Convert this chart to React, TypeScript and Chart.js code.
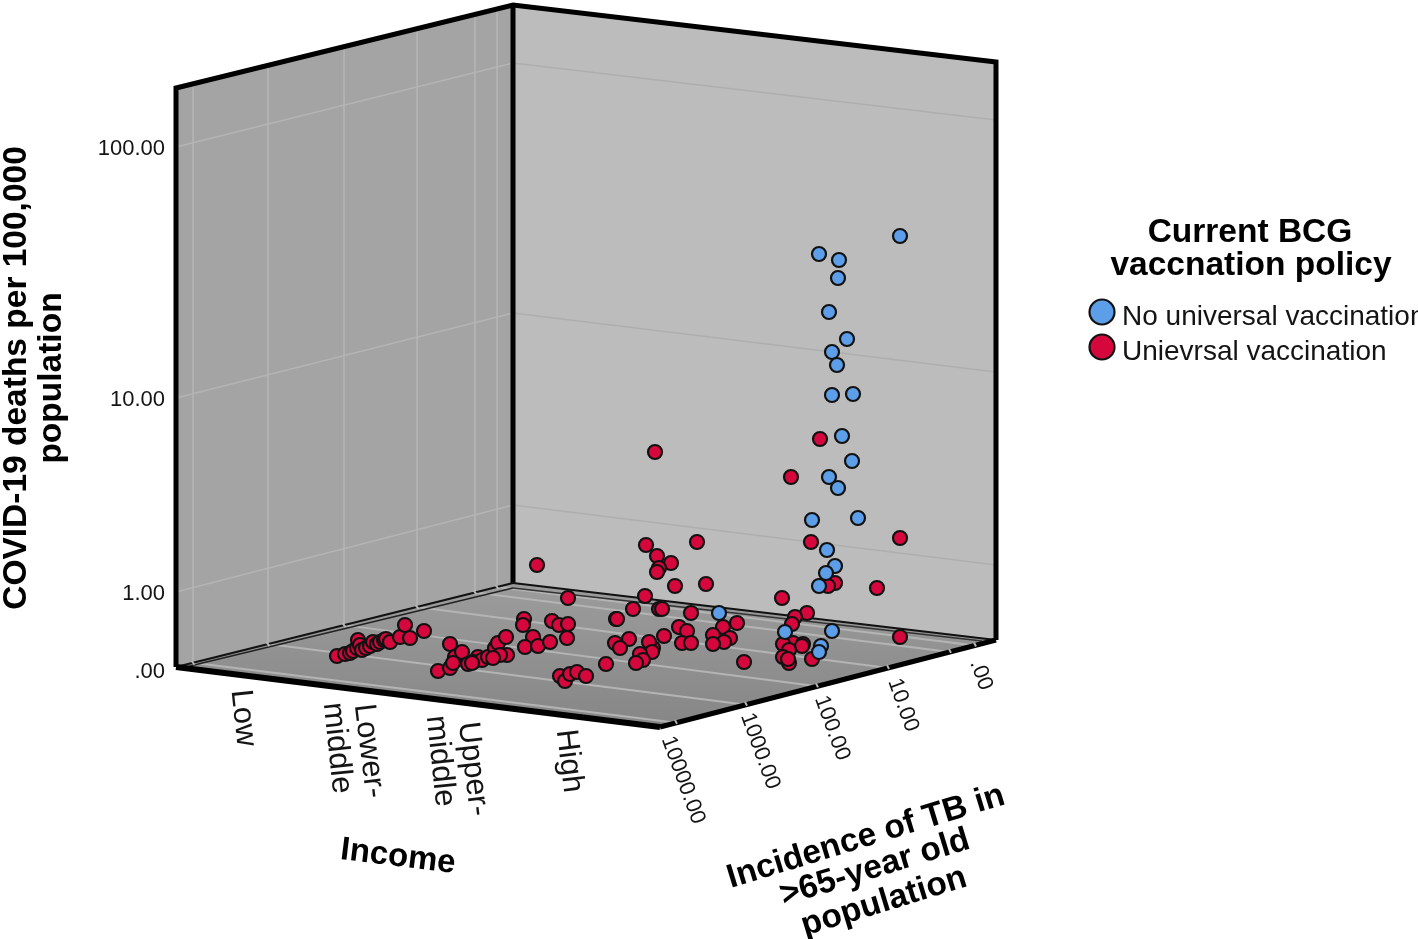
import React, { useEffect, useRef } from "react";
import { Chart, registerables } from "chart.js";

Chart.register(...registerables);

// Values are read on the projected picture plane of the 3-D scatter (horizontal, vertical).
const noUniversalX = [900, 819, 839, 838, 829, 847, 832, 837, 832, 853, 842, 852, 829, 838, 812, 858, 827, 835, 826, 819, 719, 785, 832, 821, 819];
const noUniversalY = [236, 254, 260, 278, 312, 339, 352, 365, 395, 394, 436, 461, 477, 488, 520, 518, 550, 566, 573, 586, 613, 632, 631, 646, 652];

const universalX = [
  337, 345, 350, 353, 357, 358, 360, 362, 366, 370, 373, 377, 380, 384, 386, 390, 400, 405, 410, 424,
  438, 450, 450, 455, 462, 453, 468, 478, 473, 482, 488, 495, 498, 506, 507, 500, 472, 493,
  524, 523, 552, 559, 568, 567, 533, 525, 538, 550, 568,
  616, 615, 606, 560, 565, 570, 577, 586,
  655, 537, 820, 791,
  646, 697, 657, 671, 659, 657, 675, 706, 645, 633, 617, 659, 662, 691, 737, 723, 679, 687, 713, 730, 724, 713, 682, 691, 664, 629, 620, 653, 649, 652, 640, 643, 636, 744,
  811, 900, 877, 835, 828, 782, 807, 795, 792, 900, 793, 803, 802, 783, 812, 789, 783, 789, 788,
];
const universalY = [
  656, 654, 653, 651, 648, 640, 645, 650, 648, 646, 642, 644, 642, 640, 639, 642, 637, 625, 638, 631,
  671, 668, 644, 657, 652, 663, 664, 657, 662, 660, 657, 648, 643, 637, 655, 655, 663, 658,
  619, 625, 621, 625, 624, 638, 637, 647, 646, 642, 598,
  619, 643, 664, 676, 681, 674, 672, 676,
  452, 565, 439, 477,
  545, 542, 556, 563, 568, 572, 586, 584, 596, 609, 619, 609, 609, 613, 623, 627, 627, 631, 635, 638, 642, 644, 643, 643, 636, 639, 648, 648, 642, 652, 654, 660, 663, 662,
  542, 538, 588, 583, 586, 598, 613, 617, 624, 637, 643, 644, 646, 644, 659, 650, 657, 663, 659,
];

const seriesNames = ["No universal vaccination", "Unievrsal vaccination"];
const legendTitle = ["Current BCG", "vaccnation policy"];
const deathTicks = ["100.00", "10.00", "1.00", ".00"];
const incomeTicks = ["Low", "Lower-", "middle", "Upper-", "middle", "High"];
const tbTicks = [".00", "10.00", "100.00", "1000.00", "10000.00"];
const yTitle = ["COVID-19 deaths per 100,000", "population"];
const xTitle = "Income";
const zTitle = ["Incidence of TB in", ">65-year old", "population"];

const blue = "#5c9ee8";
const red = "#d6073c";
const ink = "#141414";
const font = '"Liberation Sans", Arial, sans-serif';

type Pt = [number, number];
const cube = {
  a: [176, 88] as Pt, b: [513, 5] as Pt, c: [996, 62] as Pt,
  d: [176, 667] as Pt, e: [513, 583] as Pt, f: [996, 640] as Pt, g: [660, 727] as Pt,
};
const wallTickRows: [Pt, Pt, Pt][] = [
  [[176, 147], [513, 63], [996, 120]],
  [[176, 398], [513, 313], [996, 372]],
  [[176, 592], [513, 505], [996, 565]],
];
const wallColumns = [193, 268, 344, 417, 475, 497];
const floorEnds = [676, 746, 817, 888, 950, 975];

const walls = {
  id: "walls",
  beforeDatasetsDraw(chart: any) {
    const { ctx, scales } = chart;
    const px = (p: Pt): Pt => [scales.x.getPixelForValue(p[0]), scales.y.getPixelForValue(p[1])];
    const poly = (pts: Pt[], fill: any) => {
      ctx.beginPath();
      pts.forEach((p, i) => { const q = px(p); i ? ctx.lineTo(q[0], q[1]) : ctx.moveTo(q[0], q[1]); });
      ctx.closePath();
      ctx.fillStyle = fill;
      ctx.fill();
    };
    const line = (pts: Pt[], color: string, w: number, cap = "butt") => {
      ctx.beginPath();
      pts.forEach((p, i) => { const q = px(p); i ? ctx.lineTo(q[0], q[1]) : ctx.moveTo(q[0], q[1]); });
      ctx.strokeStyle = color;
      ctx.lineWidth = w;
      ctx.lineCap = cap;
      ctx.lineJoin = "miter";
      ctx.stroke();
    };
    ctx.save();
    const { a, b, c, d, e, f, g } = cube;
    poly([a, b, e, d], "#a4a4a4");
    poly([b, c, f, e], "#bcbcbc");
    const grad = ctx.createLinearGradient(0, px(e)[1], 0, px(g)[1]);
    grad.addColorStop(0, "#9c9c9c");
    grad.addColorStop(1, "#868686");
    poly([d, e, f, g], grad);

    wallTickRows.forEach(([l, m, r]) => {
      line([l, m], "#b4b4b4", 1.5);
      line([m, r], "#aeaeae", 1.5);
    });
    const slopeTop = (b[1] - a[1]) / (b[0] - a[0]);
    const slopeBot = (e[1] - d[1]) / (e[0] - d[0]);
    const slopeFront = (f[1] - g[1]) / (f[0] - g[0]);
    wallColumns.forEach((x, i) => {
      const top: Pt = [x, a[1] + (x - a[0]) * slopeTop];
      const bot: Pt = [x, d[1] + (x - d[0]) * slopeBot];
      line([top, bot], "#b6b6b6", 1.5);
      const end = floorEnds[i];
      line([bot, [end, g[1] + (end - g[0]) * slopeFront]], "#b4b4b4", 2);
    });

    line([d, a, b, c, f], "#000", 5);
    line([b, e], "#000", 5);
    // double seam where walls meet the floor
    line([d, e], "#111", 2);
    line([e, f], "#111", 2);
    line([[d[0] + 14, d[1] - 1], [e[0], e[1] + 5]], "#222", 1.5);
    line([[e[0], e[1] + 5], [f[0] - 14, f[1] + 1]], "#333", 1.5);
    line([d, g], "#000", 6);
    line([g, f], "#000", 5);
    // gaps at ticks along the floor edges
    wallColumns.forEach((x, i) => {
      const y = d[1] + (x - d[0]) * slopeBot;
      line([[x - 1.5, y - 2], [x + 1.5, y + 2]], "#b6b6b6", 2);
      const end = floorEnds[i];
      const yy = g[1] + (end - g[0]) * slopeFront;
      line([[end - 1, yy - 3], [end + 1, yy + 1]], "#b4b4b4", 2);
    });
    ctx.restore();
  },
  afterDatasetsDraw(chart: any) {
    const { ctx, scales } = chart;
    const text = (s: string, x: number, y: number, size: number, deg = 0, bold = false, align: CanvasTextAlign = "center") => {
      ctx.save();
      ctx.translate(scales.x.getPixelForValue(x), scales.y.getPixelForValue(y));
      ctx.rotate((deg * Math.PI) / 180);
      ctx.font = `${bold ? "bold " : ""}${size}px ${font}`;
      ctx.fillStyle = bold ? "#000" : ink;
      ctx.textAlign = align;
      ctx.textBaseline = "middle";
      ctx.fillText(s, 0, 0);
      ctx.restore();
    };
    [149, 400, 594, 672].forEach((y, i) => text(deathTicks[i], 165, y, 22, 0, false, "right"));
    const incomePos: [number, number, number][] = [
      [243, 718, 84], [369, 751, 83], [337, 748, 84], [473, 769, 83], [440, 761, 84], [569, 761, 83],
    ];
    incomeTicks.forEach((s, i) => text(s, incomePos[i][0], incomePos[i][1], 31, incomePos[i][2]));
    const tbPos: Pt[] = [[981, 675], [903, 705], [832, 728], [760, 751], [683, 780]];
    tbTicks.forEach((s, i) => text(s, tbPos[i][0], tbPos[i][1], 22, 70));
    text(yTitle[0], 17, 378, 33.5, -90, true);
    text(yTitle[1], 52, 378, 33.5, -90, true);
    text(xTitle, 398, 857, 33, 7, true);
    text(zTitle[0], 866, 837, 33.5, -17, true);
    text(zTitle[1], 875, 868, 33.5, -17, true);
    text(zTitle[2], 884, 902, 33.5, -17, true);
    text(legendTitle[0], 1250, 233, 33.5, 0, true);
    text(legendTitle[1], 1251, 266, 33.5, 0, true);
    [blue, red].forEach((col, i) => {
      const y = [312, 347][i];
      ctx.beginPath();
      ctx.arc(scales.x.getPixelForValue(1102), scales.y.getPixelForValue(y), 12.5, 0, Math.PI * 2);
      ctx.fillStyle = col;
      ctx.fill();
      ctx.lineWidth = 2.2;
      ctx.strokeStyle = "#111";
      ctx.stroke();
      text(seriesNames[i], 1122, [317, 352][i], 28, 0, false, "left");
    });
  },
};

export default function App() {
  const ref = useRef<HTMLCanvasElement>(null);
  useEffect(() => {
    if (!ref.current) return;
    const toPoints = (xs: number[], ys: number[]) => xs.map((x, i) => ({ x, y: ys[i] }));
    const chart = new Chart(ref.current, {
      type: "scatter",
      data: {
        datasets: [
          { label: seriesNames[0], data: toPoints(noUniversalX, noUniversalY), backgroundColor: blue, borderColor: "#111", borderWidth: 2.2, pointRadius: 7 },
          { label: seriesNames[1], data: toPoints(universalX, universalY), backgroundColor: red, borderColor: "#111", borderWidth: 2.2, pointRadius: 7 },
        ],
      },
      options: {
        responsive: false,
        animation: false,
        layout: { padding: 0, autoPadding: false },
        plugins: { legend: { display: false }, tooltip: { enabled: false } },
        scales: {
          x: { type: "linear", min: 0, max: 1418, display: false },
          y: { type: "linear", min: 0, max: 939, reverse: true, display: false },
        },
      },
      plugins: [walls],
    } as any);
    return () => chart.destroy();
  }, []);
  return (
    <canvas
      ref={ref}
      width={1418}
      height={939}
      style={{ position: "absolute", left: 0, top: 0, width: 1418, height: 939, display: "block", background: "#fff" }}
    />
  );
}
